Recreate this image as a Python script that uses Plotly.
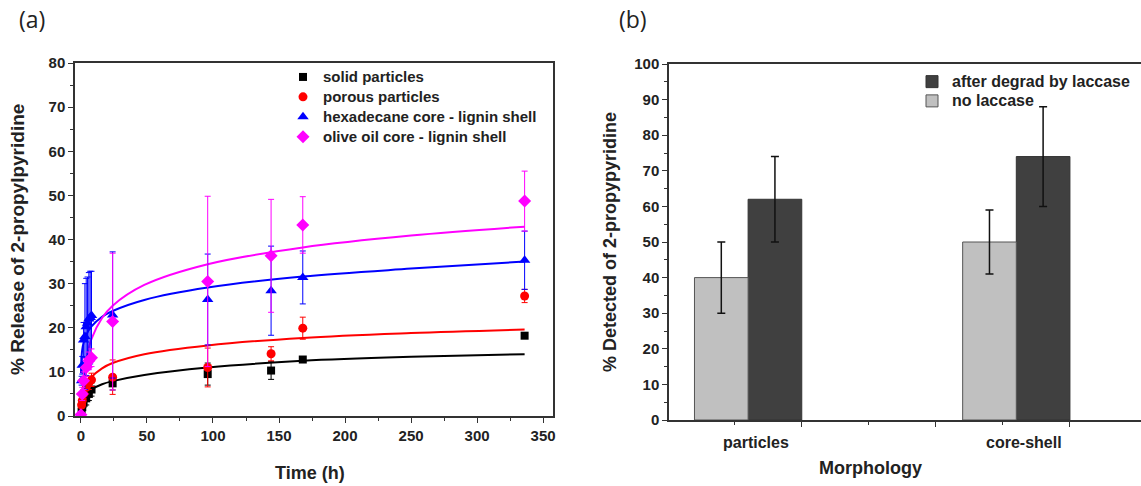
import plotly.graph_objects as go

# ---------------- Panel (a) data ----------------
t_solid = [0.5, 1, 2, 4, 6, 8, 24, 96, 144, 168, 336]
y_solid = [1.0, 2.0, 3.0, 4.0, 5.0, 6.0, 7.4, 9.5, 10.3, 12.8, 18.2]
e_solid = [0.3, 0.5, 1.0, 1.5, 1.5, 1.5, 1.5, 2.5, 2.0, 0.6, 0.5]

t_porous = [0.5, 1, 2, 4, 6, 8, 24, 96, 144, 168, 336]
y_porous = [2.5, 3.5, 5.0, 6.5, 7.5, 8.2, 8.8, 11.0, 14.1, 19.9, 27.2]
e_porous = [0.5, 1.0, 1.0, 1.5, 1.5, 1.5, 3.9, 4.4, 1.6, 2.5, 1.5]

t_hexa = [0.5, 1, 2, 3, 4, 5, 6, 7, 8, 24, 96, 144, 168, 336]
y_hexa = [8.0, 11.5, 17.2, 18.0, 20.2, 21.0, 22.0, 22.3, 22.8, 22.9, 26.4, 28.4, 31.4, 35.3]
e_hexa = [1.0, 2.0, 4.0, 12.0, 11.0, 10.5, 10.5, 10.5, 10.0, 14.3, 10.3, 10.1, 6.0, 6.6]

t_olive = [0, 1, 2, 4, 6, 8, 24, 96, 144, 168, 336]
y_olive = [0.3, 5.0, 8.0, 11.0, 12.5, 13.2, 21.4, 30.5, 36.3, 43.3, 48.7]
e_olive = [0.0, 1.5, 2.0, 2.0, 2.0, 2.0, 15.5, 19.3, 12.8, 6.4, 6.8]

# fitted curves
fit_t = [0.4, 1, 2, 4, 8, 16, 24, 48, 96, 168, 250, 336]
fit_solid = [0.8, 2.4, 3.7, 4.9, 6.0, 7.2, 7.9, 9.3, 11.0, 12.5, 13.4, 14.0]
fit_porous = [0.3, 2.8, 4.8, 6.8, 8.8, 10.8, 12.0, 14.0, 16.0, 17.7, 18.8, 19.6]
fit_t_olive = [0.7, 1, 2, 4, 8, 16, 24, 48, 96, 168, 250, 336]
fit_olive = [1.0, 3.5, 8.2, 12.9, 17.5, 22.2, 25.0, 29.7, 34.4, 38.2, 40.9, 42.9]
fit_t_hexa = [0.05, 0.25, 0.5, 1, 2, 4, 8, 16, 24, 48, 96, 168, 250, 336]
fit_hexa = [9.7, 12.3, 13.6, 15.05, 16.6, 18.4, 20.3, 22.5, 23.8, 26.3, 29.1, 31.6, 33.4, 35.0]

# ---------------- Panel (b) data ----------------
morph_labels = ["particles", "core-shell"]
morph_pos = [1, 3]
after_laccase = [62, 74]
after_err = [12, 14]
no_laccase = [40, 50]
no_err = [10, 9]

FONT = "Arial, Liberation Sans, sans-serif"
W, H = 1141, 486


def big(s, px=15):
    return '<span style="font-size:%dpx">%s</span>' % (px, s)


fig = go.Figure()

series = [
    ("solid particles", t_solid, y_solid, e_solid, fit_t, fit_solid, "#000000", "square", 8),
    ("porous particles", t_porous, y_porous, e_porous, fit_t, fit_porous, "#ff0000", "circle", 9),
    ("hexadecane core - lignin shell", t_hexa, y_hexa, e_hexa, fit_t_hexa, fit_hexa, "#0000ff", "triangle-up", 10),
    ("olive oil core - lignin shell", t_olive, y_olive, e_olive, fit_t_olive, fit_olive, "#ff00ff", "diamond", 10),
]

# fit lines first (under markers)
for name, tx, ty, te, ft, fy, col, sym, sz in series:
    fig.add_trace(go.Scatter(x=ft, y=fy, mode="lines", line=dict(color=col, width=2, shape="spline"),
                             showlegend=False, hoverinfo="skip", xaxis="x", yaxis="y"))
for name, tx, ty, te, ft, fy, col, sym, sz in series:
    fig.add_trace(go.Scatter(x=tx, y=ty, mode="markers", name=big(name, 15),
                             marker=dict(color=col, symbol=sym, size=sz, line=dict(width=0)),
                             error_y=dict(type="data", array=te, visible=True, color=col, thickness=1, width=3),
                             xaxis="x", yaxis="y", legend="legend"))

# bars
fig.add_trace(go.Bar(x=morph_pos, y=after_laccase, name=big("after degrad by laccase", 16),
                     marker=dict(color="#404040", line=dict(color="#333333", width=1)),
                     width=0.4, offset=0.0,
                     error_y=dict(type="data", array=after_err, visible=True, color="#111111", thickness=1.5, width=4),
                     xaxis="x2", yaxis="y2", legend="legend2"))
fig.add_trace(go.Bar(x=morph_pos, y=no_laccase, name=big("no laccase", 16),
                     marker=dict(color="#c0c0c0", line=dict(color="#555555", width=1)),
                     width=0.4, offset=-0.4,
                     error_y=dict(type="data", array=no_err, visible=True, color="#111111", thickness=1.5, width=4),
                     xaxis="x2", yaxis="y2", legend="legend2"))

axis_common = dict(showline=True, linecolor="#333333", linewidth=1.5, mirror=True, showgrid=False,
                   zeroline=False, ticks="outside", ticklen=5, tickwidth=1.2, tickcolor="#333333",
                   automargin=False,
                   tickfont=dict(family=FONT, size=15, color="#222222", weight="bold"))

fig.update_layout(
    template="none",
    width=W, height=H, margin=dict(l=0, r=0, t=0, b=0, pad=0, autoexpand=False),
    paper_bgcolor="white", plot_bgcolor="white",
    barmode="overlay",
    xaxis=dict(domain=[75 / W, 553 / W], range=[-4.5, 357.5], tickmode="linear", tick0=0, dtick=50,
               minor=dict(dtick=25, tick0=0, ticks="outside", ticklen=3, tickcolor="#333333"),
               anchor="y", **axis_common),
    yaxis=dict(domain=[1 - 416 / H, 1 - 63 / H], range=[0, 80], tickmode="linear", tick0=0, dtick=10,
               minor=dict(dtick=5, tick0=0, ticks="outside", ticklen=3, tickcolor="#333333"),
               anchor="x", **axis_common),
    xaxis2=dict(domain=[669 / W, 1.0], range=[0.41, 3.93], tickmode="array",
                tickvals=[0.4, 1.4, 2.4, 3.4], ticktext=["", "", "", ""],
                minor=dict(tickvals=[0.9, 1.9, 2.9], ticks="outside", ticklen=3, tickcolor="#333333"),
                anchor="y2", **axis_common),
    yaxis2=dict(domain=[1 - 420 / H, 1 - 64 / H], range=[0, 100], tickmode="linear", tick0=0, dtick=10,
                minor=dict(dtick=5, tick0=0, ticks="outside", ticklen=3, tickcolor="#333333"),
                anchor="x2", **axis_common),
    legend=dict(x=283 / W, y=1 - 62 / H, xanchor="left", yanchor="top", bgcolor="rgba(0,0,0,0)",
                font=dict(family=FONT, size=13, color="#222222", weight="bold"),
                tracegroupgap=0, itemwidth=30),
    legend2=dict(x=912 / W, y=1 - 67 / H, xanchor="left", yanchor="top", bgcolor="rgba(0,0,0,0)",
                 font=dict(family=FONT, size=12.5, color="#222222", weight="bold"),
                 tracegroupgap=0, itemwidth=30),
)

ann = []
ann.append(dict(text="(a)", x=17 / W, y=1 - 19 / H, xref="paper", yref="paper", xanchor="left", yanchor="middle",
                showarrow=False, font=dict(family="Open Sans, sans-serif", size=23, color="#222222")))
ann.append(dict(text="(b)", x=617 / W, y=1 - 19 / H, xref="paper", yref="paper", xanchor="left", yanchor="middle",
                showarrow=False, font=dict(family="Open Sans, sans-serif", size=23, color="#222222")))
ann.append(dict(text="% Release of 2-propylpyridine", x=17 / W, y=1 - 240 / H, xref="paper", yref="paper",
                textangle=-90, showarrow=False, xanchor="center", yanchor="middle",
                font=dict(family=FONT, size=19, color="#222222", weight="bold")))
ann.append(dict(text="Time (h)", x=310 / W, y=1 - 473 / H, xref="paper", yref="paper",
                showarrow=False, xanchor="center", yanchor="middle",
                font=dict(family=FONT, size=18, color="#222222", weight="bold")))
ann.append(dict(text="% Detected of 2-propypyridine", x=610 / W, y=1 - 242 / H, xref="paper", yref="paper",
                textangle=-90, showarrow=False, xanchor="center", yanchor="middle",
                font=dict(family=FONT, size=18, color="#222222", weight="bold")))
ann.append(dict(text="Morphology", x=870 / W, y=1 - 468 / H, xref="paper", yref="paper",
                showarrow=False, xanchor="center", yanchor="middle",
                font=dict(family=FONT, size=18, color="#222222", weight="bold")))
for lab, pos in zip(morph_labels, morph_pos):
    ann.append(dict(text=lab, x=pos + 0.06, y=1 - 442 / H, xref="x2", yref="paper",
                    showarrow=False, xanchor="center", yanchor="middle",
                    font=dict(family=FONT, size=16, color="#222222", weight="bold")))
fig.update_layout(annotations=ann)

fig.write_html("out.html")
